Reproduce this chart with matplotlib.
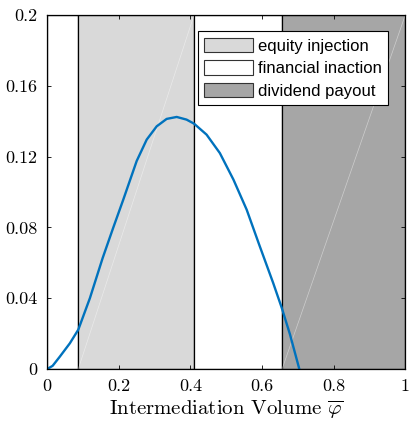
import matplotlib
matplotlib.use("Agg")
import matplotlib.pyplot as plt
from matplotlib.patches import Rectangle

plt.rcParams['font.family'] = 'serif'
plt.rcParams['font.serif'] = ['cmr10']
plt.rcParams['mathtext.fontset'] = 'cm'
plt.rcParams['axes.unicode_minus'] = False

# region boundaries on the x axis
region_edges = [0.0, 0.0866, 0.41, 0.656, 1.0]
region_colors = ['white', '#d9d9d9', 'white', '#a6a6a6']
legend_labels = ['equity injection', 'financial inaction', 'dividend payout']

# blue curve
phi = [0.0, 0.015, 0.0355, 0.063, 0.0866, 0.119, 0.1547, 0.184, 0.2123, 0.2497,
       0.2777, 0.3056, 0.3335, 0.3615, 0.389, 0.41, 0.445, 0.482, 0.52, 0.557,
       0.592, 0.631, 0.655, 0.678, 0.704]
val = [0.0, 0.0018, 0.0071, 0.0145, 0.0222, 0.0400, 0.0627, 0.0797, 0.0957, 0.1175,
       0.1296, 0.1371, 0.1413, 0.1424, 0.1409, 0.1386, 0.1324, 0.1220, 0.1070, 0.0900,
       0.0702, 0.0486, 0.0345, 0.0195, 0.0]

xticks = [0, 0.2, 0.4, 0.6, 0.8, 1]
xtick_labels = ['0', '0.2', '0.4', '0.6', '0.8', '1']
yticks = [0, 0.04, 0.08, 0.12, 0.16, 0.2]
ytick_labels = ['0', '0.04', '0.08', '0.12', '0.16', '0.2']

fig = plt.figure(figsize=(4.09, 4.25), dpi=100)
ax = fig.add_axes([0.1156, 0.1318, 0.8753, 0.8329])

for i in range(len(region_colors)):
    x0, x1 = region_edges[i], region_edges[i + 1]
    ax.add_patch(Rectangle((x0, 0), x1 - x0, 0.2, facecolor=region_colors[i],
                           edgecolor='black', linewidth=0.9, zorder=1))
    if region_colors[i] != 'white':
        # faint seam across the shaded patch
        ax.plot([x0, x1], [0, 0.2], color='white', alpha=0.45, lw=0.5, zorder=1.5)

ax.plot(phi, val, color='#0072BD', lw=1.7, zorder=3)

ax.set_xlim(0, 1)
ax.set_ylim(0, 0.2)
ax.set_xticks(xticks)
ax.set_xticklabels(xtick_labels)
ax.set_yticks(yticks)
ax.set_yticklabels(ytick_labels)
ax.tick_params(direction='in', length=3, width=0.6, labelsize=13, pad=7,
               top=True, right=True)
for s in ax.spines.values():
    s.set_linewidth(0.9)
    s.set_zorder(4)

ax.set_xlabel(r'Intermediation Volume $\overline{\varphi}$', fontsize=15, labelpad=3)

handles = [Rectangle((0, 0), 1, 1, facecolor=region_colors[1], edgecolor='#333333', lw=0.8),
           Rectangle((0, 0), 1, 1, facecolor=region_colors[2], edgecolor='#333333', lw=0.8),
           Rectangle((0, 0), 1, 1, facecolor=region_colors[3], edgecolor='#333333', lw=0.8)]
leg = ax.legend(handles, legend_labels, loc='upper right', bbox_to_anchor=(0.9525, 0.955),
                prop={'family': 'Liberation Sans', 'size': 12},
                frameon=True, fancybox=False, framealpha=1, edgecolor='black',
                handlelength=2.9, handleheight=0.96, labelspacing=0.4,
                handletextpad=0.3, borderpad=0.4, borderaxespad=0)
leg.get_frame().set_linewidth(0.8)
leg.set_zorder(5)

fig.savefig('out.png', dpi=100)
